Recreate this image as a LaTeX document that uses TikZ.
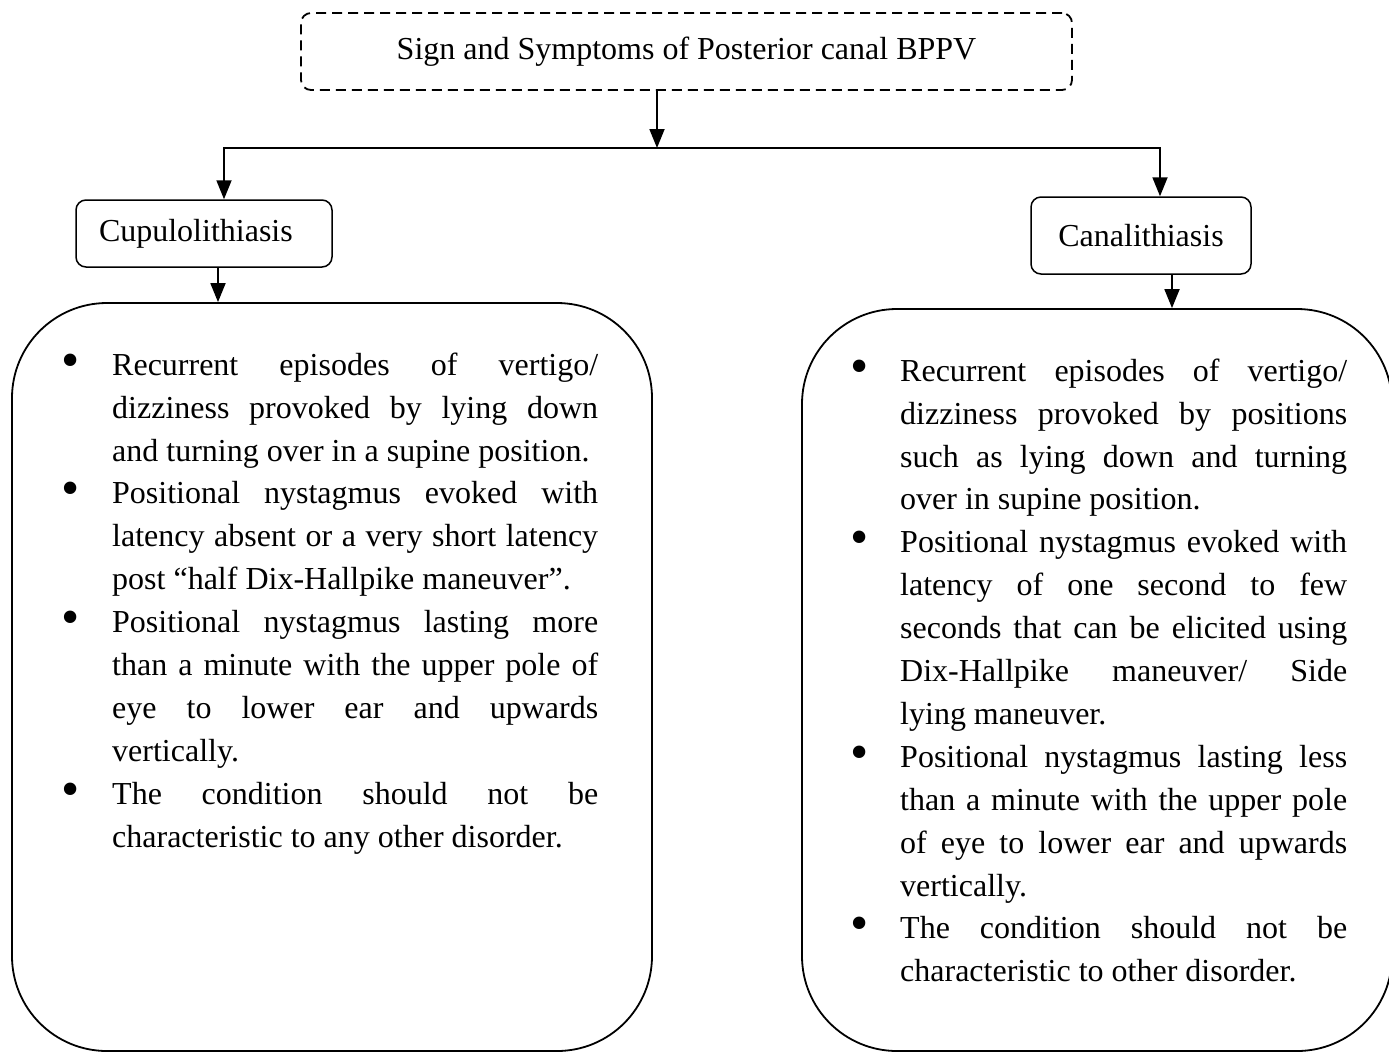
\documentclass[tikz,border=0pt]{standalone}
\usepackage{fontspec}
\setmainfont{Liberation Serif}
\usetikzlibrary{arrows.meta}
\setlength{\parindent}{0pt}
\hyphenpenalty=10000
\exhyphenpenalty=10000
\tolerance=10000
\hbadness=10000
\newcommand\itembul[1][42pt]{\leavevmode\strut\llap{\makebox[0pt][c]{\raisebox{-2pt}{\fontsize{52}{52}\selectfont\textbullet}}\hspace{#1}}\ignorespaces}
\begin{document}
\begin{tikzpicture}[x=1pt,y=-1pt,
  every node/.style={font=\fontsize{32}{42.9}\selectfont, inner sep=0pt},
  ln/.style={line width=1.8pt},
  arr/.style={line width=1.8pt,-{Triangle[length=19pt,width=15pt]}},
  titlebox/.style={draw, dash pattern=on 10pt off 6pt, rounded corners=10pt, line width=1.8pt, minimum width=771pt, minimum height=77pt},
  labbox/.style={draw, rounded corners=10pt, line width=1.5pt},
  bigbox/.style={draw, rounded corners=95pt, line width=1.8pt},
  listtext/.style={anchor=north west, align=justify}
]
\useasboundingbox (0,0) rectangle (1389,1053);
\fill[white] (0,0) rectangle (1389,1053);

\node[titlebox] (title) at (686.5,51.5) {Sign and Symptoms of Posterior canal BPPV};
\node[labbox, minimum width=256pt, minimum height=67pt, text width=210pt, align=left] (cup) at (204,233.5) {Cupulolithiasis};
\node[labbox, minimum width=220pt, minimum height=77pt] (cana) at (1141,235.5) {Canalithiasis};
\node[bigbox, minimum width=640pt, minimum height=748pt] (lbox) at (332,677) {};
\node[bigbox, minimum width=590pt, minimum height=742pt] (rbox) at (1097,680) {};

\coordinate (hub) at (657,148);
\coordinate (hl) at (224,148);
\coordinate (hr) at (1160,148);

\draw[arr] (hub |- title.south) -- (hub);
\draw[arr] (hub) -- (hl) -- (hl |- cup.north);
\draw[arr] (hub) -- (hr) -- (hr |- cana.north);
\draw[arr] ([xshift=14pt]cup.south) -- ([xshift=14pt]cup.south |- lbox.north);
\draw[arr] ([xshift=31pt]cana.south) -- ([xshift=31pt]cana.south |- rbox.north);

\node[listtext, text width=486pt] (ltext) at (112,345) {%
\itembul Recurrent episodes of vertigo/\linebreak dizziness provoked by lying down\linebreak and turning over in a supine position.\par
\itembul Positional nystagmus evoked with\linebreak latency absent or a very short latency\linebreak post “half Dix-Hallpike maneuver”.\par
\itembul Positional nystagmus lasting more\linebreak than a minute with the upper pole of\linebreak eye to lower ear and upwards\linebreak vertically.\par
\itembul The condition should not be\linebreak characteristic to any other disorder.\par};

\node[listtext, text width=447pt] (rtext) at (900,351) {%
\itembul[41pt]Recurrent episodes of vertigo/\linebreak dizziness provoked by positions\linebreak such as lying down and turning\linebreak over in supine position.\par
\itembul[41pt]Positional nystagmus evoked with\linebreak latency of one second to few\linebreak seconds that can be elicited using\linebreak Dix-Hallpike maneuver/ Side\linebreak lying maneuver.\par
\itembul[41pt]Positional nystagmus lasting less\linebreak than a minute with the upper pole\linebreak of eye to lower ear and upwards\linebreak vertically.\par
\itembul[41pt]The condition should not be\linebreak characteristic to other disorder.\par};
\end{tikzpicture}
\end{document}
